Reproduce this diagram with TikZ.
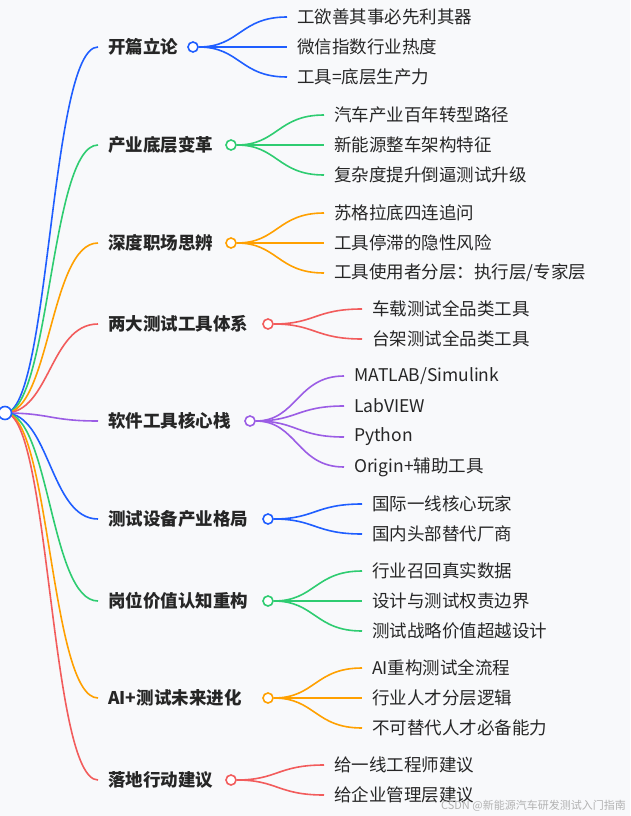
\documentclass[tikz,border=0pt]{standalone}
\usepackage{fontspec}
\setmainfont{Noto Sans CJK SC}
\definecolor{cb}{HTML}{1F5EFF}
\definecolor{cg}{HTML}{2ECC71}
\definecolor{co}{HTML}{FFA000}
\definecolor{cr}{HTML}{F25C5C}
\definecolor{cp}{HTML}{9B5DE5}
\definecolor{bg}{HTML}{F8F9FB}
\tikzset{
 cat/.style={anchor=west,inner sep=0pt,font=\fontsize{17.5}{17.5}\selectfont\bfseries,text=black!85},
 leaf/.style={anchor=west,inner sep=0pt,font=\fontsize{17.5}{17.5}\selectfont,text=black!85},
 dot/.style={circle,draw=#1,line width=1.6pt,fill=white,minimum size=10pt,inner sep=0pt},
 lnk/.style={draw=#1,line width=1.6pt}
}
\newcommand\mybranch[7]{%
 \node[cat] (#1) at (108,-#2) {#4};
 \coordinate (#1in) at (98,-#2);
 \draw[lnk=#3] (root) .. controls (50,-413) and (50,-#2) .. (#1in);
 \node[dot=#3] (#1c) at (#5,-#2) {};
 \foreach \ly/\lt [count=\i] in {#7}{
   \node[leaf] (#1l\i) at (#6,-\ly) {\lt};
   \coordinate (#1e\i) at ([xshift=-10pt]#1l\i.west);
   \draw[lnk=#3] (#1c.east) .. controls ({(#5+#6)/2-5},-#2) and ({(#5+#6)/2-5},-\ly) .. (#1e\i);
 }
}
\begin{document}
\begin{tikzpicture}[x=1pt,y=1pt]
\fill[bg] (0,0) rectangle (630,-816);
\useasboundingbox (0,0) rectangle (630,-816);
\coordinate (root) at (5,-413);
\mybranch{a}{47}{cb}{开篇立论}{193}{297}{17/工欲善其事必先利其器,47/微信指数行业热度,77/工具=底层生产力}
\mybranch{b}{145}{cg}{产业底层变革}{231}{334}{115/汽车产业百年转型路径,145/新能源整车架构特征,175/复杂度提升倒逼测试升级}
\mybranch{c}{243}{co}{深度职场思辨}{231}{334}{213/苏格拉底四连追问,243/工具停滞的隐性风险,273/{工具使用者分层：执行层/专家层}}
\mybranch{d}{324}{cr}{两大测试工具体系}{268}{372}{309/车载测试全品类工具,339/台架测试全品类工具}
\mybranch{e}{421}{cp}{软件工具核心栈}{250}{354}{376/{MATLAB/Simulink},406/LabVIEW,437/Python,467/Origin+辅助工具}
\mybranch{f}{519}{cb}{测试设备产业格局}{268}{372}{504/国际一线核心玩家,534/国内头部替代厂商}
\mybranch{g}{601}{cg}{岗位价值认知重构}{268}{372}{571/行业召回真实数据,601/设计与测试权责边界,631/测试战略价值超越设计}
\mybranch{h}{698}{co}{AI+测试未来进化}{268}{372}{668/AI重构测试全流程,698/行业人才分层逻辑,728/不可替代人才必备能力}
\mybranch{i}{780}{cr}{落地行动建议}{231}{334}{765/给一线工程师建议,795/给企业管理层建议}
\node[dot=cb,minimum size=13pt] (rootc) at (root) {};
\node[anchor=south east,inner sep=2pt,font=\fontsize{11}{11}\selectfont,text=black!30] (wm) at (628,-814) {CSDN @新能源汽车研发测试入门指南};
\end{tikzpicture}
\end{document}
